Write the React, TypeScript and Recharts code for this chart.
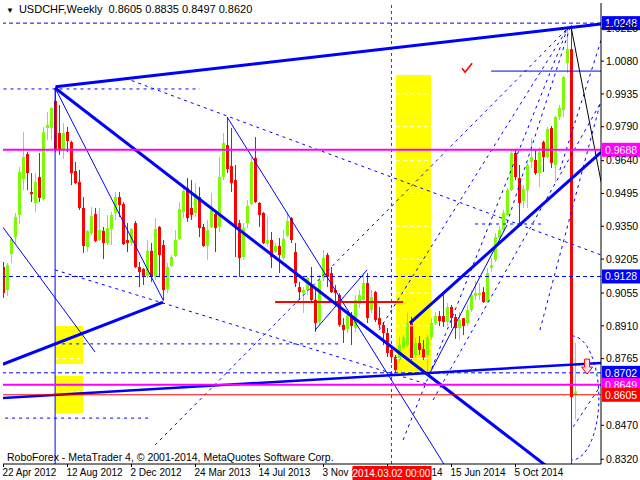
import React from "react";
import {
  ComposedChart,
  Bar,
  XAxis,
  YAxis,
  ReferenceLine,
  ReferenceArea,
  ReferenceDot,
} from "recharts";

// weekly USDCHF candles, bar 0 = 22 Apr 2012
const opens = [
  0.917, 0.9068, 0.9227, 0.9302, 0.94, 0.9559, 0.9669, 0.9501, 0.9453, 0.9568,
  0.947, 0.9784, 0.9784, 0.9904, 0.9762, 0.9691, 0.9767, 0.9722, 0.9594, 0.9546,
  0.9431, 0.9258, 0.932, 0.9404, 0.9289, 0.9329, 0.9276, 0.9338, 0.9409, 0.9479,
  0.9448, 0.9289, 0.9276, 0.9364, 0.917, 0.9161, 0.913, 0.9241, 0.9126, 0.9347,
  0.9267, 0.9073, 0.9174, 0.9219, 0.9294, 0.9413, 0.9519, 0.9431, 0.9409, 0.9479,
  0.9347, 0.9263, 0.9347, 0.9404, 0.9347, 0.9568, 0.9709, 0.9616, 0.9554, 0.9364,
  0.9214, 0.9364, 0.9448, 0.9652, 0.9453, 0.9409, 0.9271, 0.9289, 0.9236, 0.9263,
  0.921, 0.9307, 0.9386, 0.9236, 0.9081, 0.9055, 0.9068, 0.909, 0.9024, 0.8927,
  0.9121, 0.9223, 0.9143, 0.9068, 0.9046, 0.8914, 0.8896, 0.8958, 0.89, 0.9007,
  0.9024, 0.9099, 0.898, 0.9059, 0.8944, 0.8914, 0.8878, 0.8803, 0.8772, 0.8759,
  0.8812, 0.8825, 0.8922, 0.8781, 0.8834, 0.8807, 0.8781, 0.886, 0.8922, 0.8953,
  0.8953, 0.8927, 0.8993, 0.8949, 0.89, 0.8944, 0.8922, 0.898, 0.9042, 0.9046,
  0.9059, 0.9015, 0.9165, 0.9201, 0.9298, 0.9333, 0.94, 0.951, 0.9674, 0.9563,
  0.9462, 0.951, 0.9634, 0.9643, 0.9585, 0.9722, 0.9656, 0.9784, 0.9621, 0.9833,
  0.9864, 1.0072, 1.0133, 0.8605,
];
const highs = [
  0.9192, 0.9188, 0.9302, 0.9409, 0.9612, 0.9767, 0.9678, 0.9585, 0.9585, 0.9674,
  0.9789, 0.9855, 0.9877, 0.9965, 0.9886, 0.9806, 0.9789, 0.9728, 0.9634, 0.9599,
  0.9479, 0.9333, 0.9435, 0.9431, 0.9431, 0.9347, 0.94, 0.9413, 0.9501, 0.9501,
  0.9457, 0.9364, 0.9342, 0.9373, 0.9192, 0.9165, 0.9289, 0.9276, 0.9386, 0.9351,
  0.9289, 0.9188, 0.9223, 0.9333, 0.9457, 0.9532, 0.9563, 0.9554, 0.9541, 0.9523,
  0.936, 0.9378, 0.9497, 0.9413, 0.9656, 0.9762, 0.9833, 0.9784, 0.9621, 0.9378,
  0.9364, 0.9466, 0.9656, 0.9744, 0.9457, 0.9413, 0.9391, 0.9325, 0.9276, 0.9298,
  0.9333, 0.9413, 0.9391, 0.9276, 0.9104, 0.9081, 0.9126, 0.917, 0.9068, 0.9135,
  0.9245, 0.9232, 0.917, 0.909, 0.9055, 0.8944, 0.8967, 0.8971, 0.9046, 0.9068,
  0.9143, 0.9143, 0.9068, 0.9064, 0.8993, 0.8927, 0.89, 0.8825, 0.8781, 0.886,
  0.8869, 0.8967, 0.8949, 0.8856, 0.8865, 0.8847, 0.8869, 0.8944, 0.8971, 0.8975,
  0.9046, 0.9011, 0.9002, 0.8962, 0.8971, 0.8944, 0.9002, 0.9068, 0.9108, 0.9099,
  0.9081, 0.9165, 0.921, 0.932, 0.9351, 0.9422, 0.9519, 0.9683, 0.9687, 0.9621,
  0.9532, 0.963, 0.974, 0.9687, 0.97, 0.9728, 0.9789, 0.9793, 0.9837, 0.9886,
  1.0014, 1.0217, 1.024, 0.8835,
];
const lows = [
  0.9033, 0.9042, 0.9188, 0.9271, 0.936, 0.951, 0.951, 0.9457, 0.9413, 0.9457,
  0.9462, 0.9731, 0.9731, 0.968, 0.9665, 0.9647, 0.9678, 0.9532, 0.9536, 0.9422,
  0.9232, 0.9236, 0.9311, 0.928, 0.9285, 0.9205, 0.9267, 0.9267, 0.9378, 0.9391,
  0.9267, 0.9236, 0.9263, 0.9165, 0.9081, 0.909, 0.9121, 0.9104, 0.9112, 0.9126,
  0.902, 0.9055, 0.917, 0.9214, 0.9289, 0.9386, 0.9369, 0.9378, 0.9391, 0.9302,
  0.9258, 0.9201, 0.9342, 0.9236, 0.9325, 0.9554, 0.9585, 0.9501, 0.9214, 0.9126,
  0.9201, 0.9342, 0.9444, 0.9453, 0.9347, 0.9271, 0.9258, 0.9165, 0.9232, 0.9143,
  0.9201, 0.9302, 0.9276, 0.9081, 0.9024, 0.8967, 0.9046, 0.9011, 0.8883, 0.8914,
  0.9108, 0.9081, 0.9055, 0.9015, 0.8905, 0.8834, 0.8878, 0.8825, 0.8883, 0.8989,
  0.9011, 0.8922, 0.8967, 0.8927, 0.89, 0.8825, 0.8772, 0.8746, 0.8701, 0.875,
  0.8803, 0.8816, 0.8759, 0.8768, 0.8781, 0.8759, 0.8701, 0.8847, 0.8914, 0.8909,
  0.8905, 0.8909, 0.89, 0.8852, 0.8847, 0.8869, 0.8909, 0.8971, 0.9024, 0.9024,
  0.9011, 0.9011, 0.9148, 0.9192, 0.9285, 0.9325, 0.9395, 0.9506, 0.9554, 0.9356,
  0.9431, 0.9431, 0.9607, 0.9577, 0.9523, 0.959, 0.9652, 0.9607, 0.9546, 0.982,
  0.9833, 1.0027, 0.74, 0.8497,
];
const closes = [
  0.9055, 0.9179, 0.9294, 0.9391, 0.959, 0.9656, 0.9585, 0.9492, 0.9546, 0.9475,
  0.9767, 0.9798, 0.9873, 0.9687, 0.9691, 0.9762, 0.9727, 0.9585, 0.9541, 0.9431,
  0.9263, 0.9329, 0.9395, 0.9285, 0.9333, 0.9276, 0.9342, 0.94, 0.9479, 0.9444,
  0.9271, 0.9276, 0.9338, 0.917, 0.9148, 0.9126, 0.9241, 0.9126, 0.9338, 0.9223,
  0.9068, 0.917, 0.9214, 0.9289, 0.9426, 0.9506, 0.9386, 0.94, 0.9492, 0.9342,
  0.9263, 0.9333, 0.9422, 0.9342, 0.9568, 0.9718, 0.9603, 0.9541, 0.9347, 0.921,
  0.9342, 0.944, 0.9634, 0.9457, 0.94, 0.9276, 0.9289, 0.9214, 0.9263, 0.9223,
  0.9294, 0.9373, 0.9289, 0.9099, 0.9059, 0.9068, 0.9121, 0.9024, 0.8922, 0.9112,
  0.921, 0.9126, 0.9059, 0.9055, 0.8914, 0.8891, 0.8958, 0.8909, 0.9024, 0.9046,
  0.9099, 0.8944, 0.9037, 0.8936, 0.8914, 0.8878, 0.879, 0.8772, 0.8715, 0.8825,
  0.886, 0.8922, 0.8768, 0.8834, 0.8803, 0.8772, 0.886, 0.8922, 0.8953, 0.8931,
  0.8927, 0.8993, 0.8944, 0.89, 0.8936, 0.8909, 0.898, 0.9046, 0.9055, 0.9055,
  0.9015, 0.9143, 0.9179, 0.9302, 0.9333, 0.9409, 0.951, 0.9674, 0.9568, 0.9453,
  0.9515, 0.9621, 0.9656, 0.9585, 0.9678, 0.9656, 0.978, 0.963, 0.9833, 0.9873,
  1.001, 1.0133, 0.8595, 0.862,
];

const tickIdx = [0, 16, 32, 48, 64, 80, 96, 112, 128];
const tickLabels = [
  "22 Apr 2012", "12 Aug 2012", "2 Dec 2012", "24 Mar 2013", "14 Jul 2013",
  "3 Nov 2013", "23 Feb 2014", "15 Jun 2014", "5 Oct 2014",
];
// scale labels; 0.8620 sits under the price tags so it is not printed
const priceTicks = [
  1.0225, 1.008, 0.9935, 0.979, 0.964, 0.9495, 0.935, 0.9205, 0.9055, 0.891,
  0.8765, 0.847, 0.832,
];
const gridLevels = [...priceTicks, 0.862];

// horizontal objects with a tag on the price scale
const tagLevels = [1.0248, 0.9688, 0.9128, 0.8702, 0.8649, 0.8605];

// trend lines as [bar, price, bar, price]
const thickLines = [
  [13, 0.9967, 149.4, 1.0244],
  [12.9, 0.9961, 140, 0.8232],
  [-0.2, 0.874, 39.9, 0.9015],
  [101.6, 0.8922, 149.4, 0.9678],
];
const channelLow = [-0.2, 0.8591, 149.4, 0.8746];
const thinLines = [
  [12.9, 0.9961, 39.9, 0.9024],
  [55.9, 0.9833, 112, 0.8245],
  [-0.2, 0.9347, 22.9, 0.8794],
  [77.9, 0.8891, 90.9, 0.9157],
  [106.6, 0.8701, 125.9, 0.9356],
  [12.9, 0.9961, 12.9, 0.82],
  [121.9, 1.0036, 149.4, 1.0036],
];
const dashedLines = [
  [0, 0.9957, 49.1, 0.9957],
  [12.9, 0.883, 84.1, 0.883],
  [0.4, 0.8502, 37.1, 0.8502],
  [117.9, 0.936, 134.9, 0.936],
  [30.4, 1.0005, 149.4, 0.9223],
  [12.9, 0.9157, 106.6, 0.8648],
  [37.9, 0.8383, 141.1, 1.0226],
  [93.9, 0.8891, 141.1, 1.0226],
  [99.9, 0.8405, 141.1, 1.0226],
  [107.4, 0.8582, 149.4, 0.9899],
  [134.1, 0.8891, 149.4, 0.9908],
  [139.1, 0.9599, 149.4, 1.0173],
  [125.9, 0.9364, 141.6, 1.0226],
  [142.4, 0.8463, 149.4, 0.8648],
];
const blackLine = [141.9, 1.0231, 149.4, 0.9546];
const redSegment = [67.9, 0.9015, 99.9, 0.9015];
const yellowBoxes = [
  [98.1, 106.9, 0.8701, 1.0019],
  [12.9, 19.9, 0.8741, 0.8909],
  [12.9, 19.9, 0.8525, 0.8688],
];
const cursorBar = 97;
const cursorLabel = "2014.03.02 00:00";

const X_DOMAIN = [-0.125, 149.375];
const PLOT_W = 598;

const GREEN = "#7cfc00";
const RED = "#ff0000";
const BLUE = "#0000ff";
const MAGENTA = "#ff00ff";
const FONT = "'Liberation Sans', Arial, sans-serif";

const tagColors = [BLUE, MAGENTA, BLUE, BLUE, MAGENTA, RED];

const candles = opens.map((o, i) => ({
  i,
  open: o,
  high: highs[i],
  low: lows[i],
  close: closes[i],
  range: [lows[i], highs[i]],
}));

function Candle(props: any) {
  const { x, y, width, height, payload } = props;
  const top = Math.min(y, y + height);
  const h = Math.abs(height);
  const { open, close, high, low } = payload;
  const color = close >= open ? GREEN : RED;
  const span = high - low || 1e-9;
  const at = (v: number) => top + ((high - v) / span) * h;
  const b1 = at(Math.max(open, close));
  const b2 = at(Math.min(open, close));
  const cx = Math.round(x + width / 2) + 0.5;
  return (
    <g>
      <line x1={cx} x2={cx} y1={top} y2={top + h} stroke={color} strokeWidth={1} />
      <rect x={cx - 1.5} y={b1} width={3} height={Math.max(1, b2 - b1)} fill={color} />
    </g>
  );
}

// the cursor's time tag is drawn with the tick it covers, so it lies on top of it
function XTick(props: any) {
  const { x, y, payload } = props;
  const k = tickIdx.indexOf(payload.value);
  const covered = payload.value === 96;
  const pxPerBar = PLOT_W / (X_DOMAIN[1] - X_DOMAIN[0]);
  const cx = x + (cursorBar - payload.value) * pxPerBar;
  return (
    <g>
      <line x1={x} x2={x} y1={y - 8} y2={y - 5} stroke="#000" />
      <text x={x - 1} y={y + 4} fontSize={10} fontFamily={FONT} fill="#000">
        {tickLabels[k]}
      </text>
      {covered && (
        <g>
          <rect x={cx - 39} y={y - 6} width={79} height={14} fill={RED} />
          <text x={cx} y={y + 4.5} textAnchor="middle" fontSize={10} fontFamily={FONT} fill="#fff">
            {cursorLabel}
          </text>
        </g>
      )}
    </g>
  );
}

const tag = (value: number, bg: string) => (p: any) => {
  const vb = p.viewBox;
  const left = vb.x + vb.width + 1;
  return (
    <g>
      <rect x={left} y={vb.y - 7} width={38} height={14} fill={bg} />
      <text x={left + 3} y={vb.y + 4} fontSize={10.5} fontFamily={FONT} fill="#fff">
        {value.toFixed(4)}
      </text>
    </g>
  );
};

const seg = (s: number[]) => [
  { x: s[0], y: s[1] },
  { x: s[2], y: s[3] },
];

export default function App() {
  return (
    <div style={{ position: "absolute", left: 0, top: 0, width: 640, height: 480, background: "#fff" }}>
      <ComposedChart
        width={640}
        height={480}
        data={candles}
        margin={{ top: 3, right: 0, left: 3, bottom: 0 }}
      >
        <XAxis
          dataKey="i"
          type="number"
          domain={X_DOMAIN}
          allowDataOverflow
          ticks={tickIdx}
          tick={<XTick />}
          tickLine={false}
          axisLine={{ stroke: "#000" }}
          height={16}
          interval={0}
        />
        <XAxis xAxisId="top" orientation="top" height={0} tick={false} tickLine={false} axisLine={{ stroke: "#000" }} />
        <YAxis
          orientation="right"
          type="number"
          domain={[0.8299, 1.0337]}
          allowDataOverflow
          ticks={priceTicks}
          interval={0}
          tickFormatter={(v: number) => v.toFixed(4)}
          tick={{ fontSize: 10.5, fill: "#000", fontFamily: FONT }}
          tickSize={3}
          tickMargin={2}
          tickLine={{ stroke: "#000" }}
          axisLine={{ stroke: "#000" }}
          width={39}
        />
        <YAxis yAxisId="left" orientation="left" width={0} tick={false} tickLine={false} axisLine={{ stroke: "#000", strokeWidth: 2 }} />

        {yellowBoxes.map((b, k) => (
          <ReferenceArea key={"yb" + k} x1={b[0]} x2={b[1]} y1={b[2]} y2={b[3]} fill="#ffff00" fillOpacity={1} stroke="none" />
        ))}
        {yellowBoxes.map((b, k) =>
          gridLevels
            .filter((v) => v > b[2] && v < b[3])
            .map((v) => (
              <ReferenceLine key={"yg" + k + v} segment={seg([b[0], v, b[1], v])} stroke="#fff" strokeDasharray="4 3" ifOverflow="hidden" />
            ))
        )}

        <Bar dataKey="range" barSize={3} shape={<Candle />} isAnimationActive={false} />

        <ReferenceLine x={cursorBar} stroke={RED} strokeDasharray="3 3" />

        {dashedLines.map((s, k) => (
          <ReferenceLine key={"d" + k} segment={seg(s)} stroke={BLUE} strokeDasharray="3 4" ifOverflow="hidden" />
        ))}
        {thinLines.map((s, k) => (
          <ReferenceLine key={"t" + k} segment={seg(s)} stroke={BLUE} strokeWidth={1} ifOverflow="hidden" />
        ))}
        <ReferenceLine segment={seg(blackLine)} stroke="#000" ifOverflow="hidden" />
        <ReferenceLine segment={seg(redSegment)} stroke={RED} strokeWidth={2} ifOverflow="hidden" />
        {thickLines.map((s, k) => (
          <ReferenceLine key={"k" + k} segment={seg(s)} stroke={BLUE} strokeWidth={3} ifOverflow="hidden" />
        ))}
        <ReferenceLine segment={seg(channelLow)} stroke={BLUE} strokeWidth={2.5} ifOverflow="hidden" />

        {tagLevels.map((v, k) => (
          <ReferenceLine
            key={"h" + k}
            y={v}
            stroke={tagColors[k]}
            strokeWidth={tagColors[k] === MAGENTA ? 2 : 1}
            strokeDasharray={tagColors[k] === BLUE ? "4 3" : undefined}
            label={tag(v, tagColors[k])}
          />
        ))}

        <ReferenceDot
          x={115.9}
          y={1.0049}
          shape={(p: any) => (
            <path d={`M${p.cx - 5} ${p.cy} L${p.cx - 2} ${p.cy + 4} L${p.cx + 5} ${p.cy - 5}`} stroke={RED} strokeWidth={1.6} fill="none" />
          )}
        />
        <ReferenceDot
          x={145.9}
          y={0.8723}
          shape={(p: any) => (
            <path
              d={`M${p.cx - 2.5} ${p.cy - 9} H${p.cx + 2.5} V${p.cy - 1} H${p.cx + 5.5} L${p.cx} ${p.cy + 6} L${p.cx - 5.5} ${p.cy - 1} H${p.cx - 2.5} Z`}
              stroke={RED}
              fill="#ffe0e0"
            />
          )}
        />
        <ReferenceDot
          x={142.1}
          y={0.8591}
          shape={(p: any) => (
            <path d={`M${p.cx} ${p.cy - 62} A 27 62 0 0 1 ${p.cx} ${p.cy + 62}`} stroke={BLUE} strokeDasharray="3 3" fill="none" />
          )}
        />
      </ComposedChart>

      <div style={{ position: "absolute", left: 6, top: 3, fontFamily: FONT, fontSize: 11, color: "#000", whiteSpace: "nowrap" }}>
        <span style={{ fontSize: 8, marginRight: 5 }}>▼</span>USDCHF,Weekly&nbsp; 0.8605 0.8835 0.8497 0.8620
      </div>
      <div style={{ position: "absolute", left: 7, top: 451, fontFamily: FONT, fontSize: 10.5, color: "#000", whiteSpace: "nowrap" }}>
        RoboForex - MetaTrader 4, © 2001-2014, MetaQuotes Software Corp.
      </div>
    </div>
  );
}
